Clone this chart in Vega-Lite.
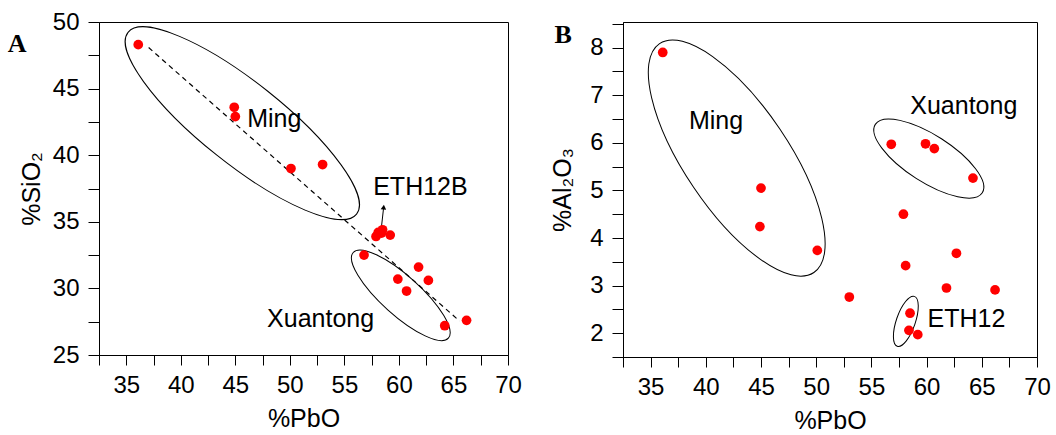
{
  "$schema": "https://vega.github.io/schema/vega-lite/v6.json",
  "background": "white",
  "padding": {"left": 7, "top": 9, "right": 2, "bottom": 2},
  "spacing": 28,
  "config": {
    "view": {"stroke": "black", "strokeWidth": 1},
    "font": "Liberation Sans",
    "axis": {
      "domainColor": "black", "tickColor": "black", "labelColor": "black", "titleColor": "black",
      "labelFont": "Liberation Sans", "titleFont": "Liberation Sans",
      "labelFontSize": 24, "titleFontSize": 25, "titleFontWeight": "normal",
      "tickSize": 10, "grid": false, "labelFlush": false, "labelOverlap": false
    },
    "axisX": {"labelPadding": 8, "titlePadding": 9},
    "axisY": {"labelPadding": 9, "tickSize": 11}
  },
  "datasets": {
    "pts": [
      {"PbO": 36.1, "SiO2": 48.3, "Al2O3": 7.9},
      {"PbO": 44.9, "SiO2": 43.6, "Al2O3": 4.24},
      {"PbO": 45.0, "SiO2": 42.9, "Al2O3": 5.05},
      {"PbO": 50.1, "SiO2": 39.0, "Al2O3": 3.74},
      {"PbO": 53.0, "SiO2": 39.3, "Al2O3": 2.76},
      {"PbO": 56.8, "SiO2": 32.5, "Al2O3": 5.97},
      {"PbO": 57.9, "SiO2": 33.9, "Al2O3": 4.5},
      {"PbO": 58.1, "SiO2": 34.2, "Al2O3": 3.42},
      {"PbO": 58.5, "SiO2": 34.4, "Al2O3": 2.42},
      {"PbO": 58.4, "SiO2": 34.15, "Al2O3": 2.06},
      {"PbO": 59.2, "SiO2": 34.0, "Al2O3": 1.97},
      {"PbO": 59.9, "SiO2": 30.7, "Al2O3": 5.98},
      {"PbO": 60.7, "SiO2": 29.8, "Al2O3": 5.88},
      {"PbO": 61.8, "SiO2": 31.6, "Al2O3": 2.95},
      {"PbO": 62.7, "SiO2": 30.6, "Al2O3": 3.68},
      {"PbO": 64.2, "SiO2": 27.2, "Al2O3": 5.26},
      {"PbO": 66.2, "SiO2": 27.6, "Al2O3": 2.91}
    ],
    "trendA": [
      {"PbO": 37.05, "SiO2": 48.08},
      {"PbO": 65.56, "SiO2": 27.55}
    ],
    "ellipsesA": [
      {"group": "Ming", "PbO": 45.64, "SiO2": 42.4},
      {"group": "Xuantong", "PbO": 60.17, "SiO2": 29.48}
    ],
    "ellipsesB": [
      {"group": "Ming", "PbO": 42.8, "Al2O3": 5.68},
      {"group": "Xuantong", "PbO": 60.2, "Al2O3": 5.67},
      {"group": "ETH12", "PbO": 58.12, "Al2O3": 2.25}
    ],
    "arrowA": [
      {"PbO": 58.39, "SiO2": 34.55, "PbO2": 58.6, "SiO22": 36.1}
    ],
    "labelsA": [
      {"label": "Ming", "PbO": 48.57, "SiO2": 42.7},
      {"label": "ETH12B", "PbO": 61.97, "SiO2": 37.63},
      {"label": "Xuantong", "PbO": 52.82, "SiO2": 27.68}
    ],
    "labelsB": [
      {"label": "Ming", "PbO": 40.93, "Al2O3": 6.46},
      {"label": "Xuantong", "PbO": 63.37, "Al2O3": 6.77},
      {"label": "ETH12", "PbO": 63.61, "Al2O3": 2.29}
    ],
    "panelA": [{"label": "A", "PbO": 25.0, "SiO2": 48.36}],
    "panelB": [{"label": "B", "PbO": 27.08, "Al2O3": 8.26}]
  },
  "hconcat": [
    {
      "width": 409,
      "height": 333,
      "encoding": {
        "x": {
          "field": "PbO", "type": "quantitative",
          "scale": {"domain": [32.5, 70], "nice": false, "zero": false},
          "axis": {
            "title": "%PbO",
            "values": [32.5, 35, 37.5, 40, 42.5, 45, 47.5, 50, 52.5, 55, 57.5, 60, 62.5, 65, 67.5, 70],
            "labelExpr": "datum.value % 5 === 0 ? datum.label : ''"
          }
        },
        "y": {
          "field": "SiO2", "type": "quantitative",
          "scale": {"domain": [25, 50], "nice": false, "zero": false},
          "axis": {
            "title": "%SiO₂", "titlePadding": 8,
            "values": [25, 27.5, 30, 32.5, 35, 37.5, 40, 42.5, 45, 47.5, 50],
            "labelExpr": "datum.value % 5 === 0 ? format(datum.value, 'd') : ''"
          }
        }
      },
      "layer": [
        {
          "data": {"name": "trendA"},
          "mark": {"type": "line", "color": "black", "strokeWidth": 1.2, "strokeDash": [5, 4]}
        },
        {
          "data": {"name": "ellipsesA"},
          "transform": [{"filter": "datum.group === 'Ming'"}],
          "mark": {"type": "point", "shape": "M-1,0A1,0.28,0,1,1,1,0A1,0.28,0,1,1,-1,0Z", "size": 85264, "angle": 38.5, "filled": false, "stroke": "black", "strokeWidth": 1, "opacity": 1}
        },
        {
          "data": {"name": "ellipsesA"},
          "transform": [{"filter": "datum.group === 'Xuantong'"}],
          "mark": {"type": "point", "shape": "M-1,0A1,0.305,0,1,1,1,0A1,0.305,0,1,1,-1,0Z", "size": 16384, "angle": 42, "filled": false, "stroke": "black", "strokeWidth": 1, "opacity": 1}
        },
        {
          "data": {"name": "arrowA"},
          "mark": {"type": "rule", "color": "black", "strokeWidth": 1},
          "encoding": {"x2": {"field": "PbO2"}, "y2": {"field": "SiO22"}}
        },
        {
          "data": {"name": "arrowA"},
          "mark": {"type": "point", "shape": "triangle-up", "size": 30, "filled": true, "color": "black", "opacity": 1, "angle": 6},
          "encoding": {"x": {"field": "PbO2", "type": "quantitative"}, "y": {"field": "SiO22", "type": "quantitative"}}
        },
        {
          "data": {"name": "pts"},
          "mark": {"type": "circle", "size": 95, "color": "#ff0000", "opacity": 1}
        },
        {
          "data": {"name": "labelsA"},
          "mark": {"type": "text", "font": "Liberation Sans", "fontSize": 25, "color": "black"},
          "encoding": {"text": {"field": "label"}}
        },
        {
          "data": {"name": "panelA"},
          "mark": {"type": "text", "font": "Liberation Serif", "fontWeight": "bold", "fontSize": 26, "color": "black"},
          "encoding": {"text": {"field": "label"}}
        }
      ]
    },
    {
      "width": 414,
      "height": 335,
      "encoding": {
        "x": {
          "field": "PbO", "type": "quantitative",
          "scale": {"domain": [32.5, 70], "nice": false, "zero": false},
          "axis": {
            "title": "%PbO",
            "values": [32.5, 35, 37.5, 40, 42.5, 45, 47.5, 50, 52.5, 55, 57.5, 60, 62.5, 65, 67.5, 70],
            "labelExpr": "datum.value % 5 === 0 ? datum.label : ''"
          }
        },
        "y": {
          "field": "Al2O3", "type": "quantitative",
          "scale": {"domain": [1.5, 8.54], "nice": false, "zero": false},
          "axis": {
            "title": "%Al₂O₃", "titlePadding": 14,
            "values": [1.5, 2, 2.5, 3, 3.5, 4, 4.5, 5, 5.5, 6, 6.5, 7, 7.5, 8, 8.5],
            "labelExpr": "datum.value % 1 === 0 ? format(datum.value, 'd') : ''"
          }
        }
      },
      "layer": [
        {
          "data": {"name": "ellipsesB"},
          "transform": [{"filter": "datum.group === 'Ming'"}],
          "mark": {"type": "point", "shape": "M-1,0A1,0.377,0,1,1,1,0A1,0.377,0,1,1,-1,0Z", "size": 76176, "angle": 56, "filled": false, "stroke": "black", "strokeWidth": 1, "opacity": 1}
        },
        {
          "data": {"name": "ellipsesB"},
          "transform": [{"filter": "datum.group === 'Xuantong'"}],
          "mark": {"type": "point", "shape": "M-1,0A1,0.37,0,1,1,1,0A1,0.37,0,1,1,-1,0Z", "size": 16129, "angle": 32.6, "filled": false, "stroke": "black", "strokeWidth": 1, "opacity": 1}
        },
        {
          "data": {"name": "ellipsesB"},
          "transform": [{"filter": "datum.group === 'ETH12'"}],
          "mark": {"type": "point", "shape": "M-1,0A1,0.36,0,1,1,1,0A1,0.36,0,1,1,-1,0Z", "size": 2788, "angle": 109, "filled": false, "stroke": "black", "strokeWidth": 1, "opacity": 1}
        },
        {
          "data": {"name": "pts"},
          "mark": {"type": "circle", "size": 95, "color": "#ff0000", "opacity": 1}
        },
        {
          "data": {"name": "labelsB"},
          "mark": {"type": "text", "font": "Liberation Sans", "fontSize": 25, "color": "black"},
          "encoding": {"text": {"field": "label"}}
        },
        {
          "data": {"name": "panelB"},
          "mark": {"type": "text", "font": "Liberation Serif", "fontWeight": "bold", "fontSize": 26, "color": "black"},
          "encoding": {"text": {"field": "label"}}
        }
      ]
    }
  ]
}
